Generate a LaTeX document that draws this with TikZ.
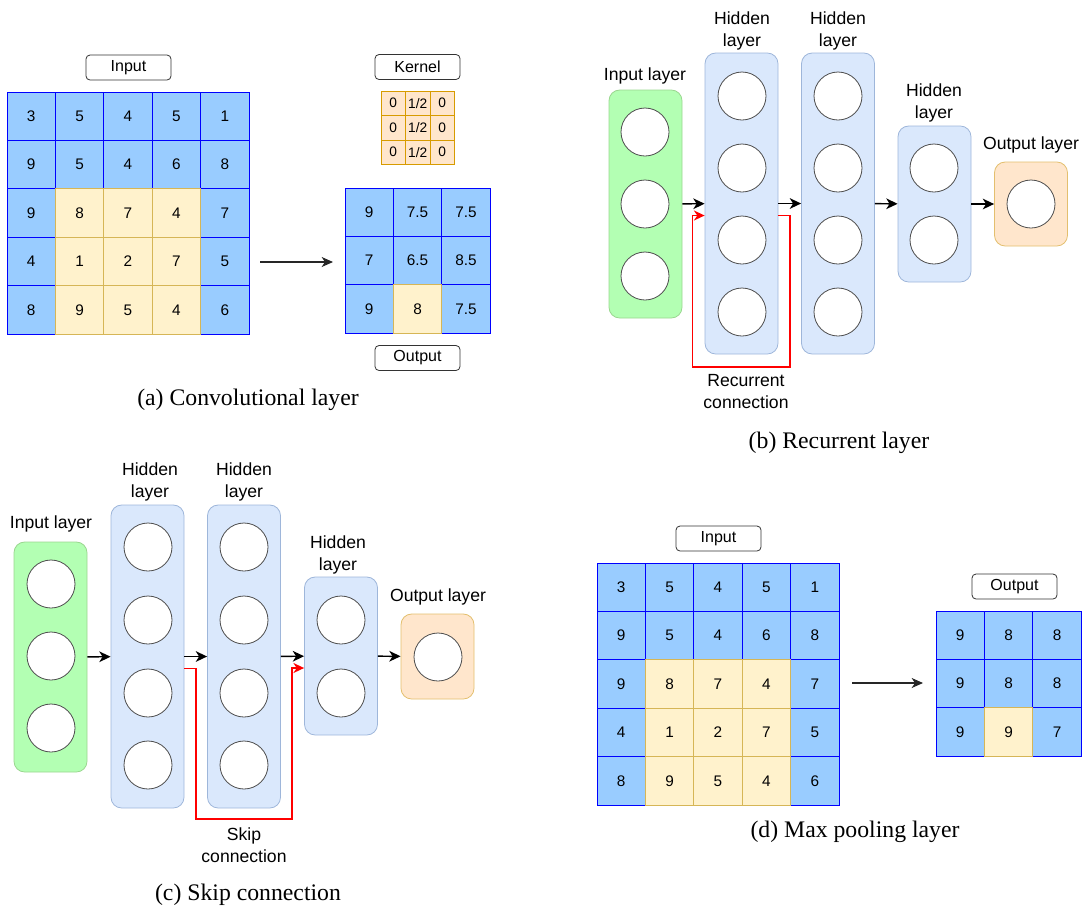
\documentclass[tikz,border=0pt]{standalone}
\usepackage{fontspec}
\setmainfont{Liberation Serif}
\setsansfont{Liberation Sans}
\usetikzlibrary{arrows.meta,calc}

\definecolor{cellblue}{HTML}{99CCFF}
\definecolor{cellyel}{HTML}{FFF2CC}
\definecolor{yelline}{HTML}{D6B656}
\definecolor{kerfill}{HTML}{FFE6CC}
\definecolor{kerline}{HTML}{D79B00}
\definecolor{hidfill}{HTML}{DAE8FC}
\definecolor{hidline}{HTML}{9EB6DA}
\definecolor{infill}{HTML}{B3FFB3}
\definecolor{lyrin}{HTML}{9AD68F}
\definecolor{outfill}{HTML}{FFE6CC}
\definecolor{lyrout}{HTML}{E3BF6E}

\tikzset{
  cell/.style={minimum size=48.4*0.75pt, inner sep=0, line width=0.75pt,
    font=\sffamily\fontsize{11.5}{13}\selectfont},
  kcell/.style={draw=kerline, fill=kerfill, minimum size=24.5*0.75pt, inner sep=0,
    line width=0.75pt, font=\sffamily\fontsize{10.3}{11}\selectfont},
  tag/.style={draw=black!80, rounded corners=3pt, fill=white, minimum width=85*0.75pt,
    minimum height=25*0.75pt, inner sep=0, line width=0.6pt,
    font=\sffamily\fontsize{12}{14}\selectfont},
  lyr/.style={rounded corners=8pt, minimum width=73*0.75pt, inner sep=0, line width=0.6pt},
  hid/.style={lyr, draw=hidline, fill=hidfill},
  inl/.style={lyr, draw=lyrin, fill=infill},
  outl/.style={lyr, draw=lyrout, fill=outfill},
  neuron/.style={circle, draw=black!70, fill=white, minimum size=48*0.75pt, inner sep=0,
    line width=0.6pt},
  lbl/.style={font=\sffamily\fontsize{13.2}{16.5}\selectfont, align=center, inner sep=0},
  caption/.style={font=\fontsize{17.8}{20}\selectfont, inner sep=0},
  flow/.style={-{Stealth[length=8.5pt,width=8pt,inset=2.5pt]}, line width=1.1pt},
  loopback/.style={-{Stealth[length=8pt,width=7.5pt,inset=2.5pt]}, line width=1.1pt, red},
  map/.style={-{Stealth[length=8.5pt,width=7.5pt,inset=2.5pt]}, line width=0.8pt, black!85},
}

% grid of numbered cells: prefix, left, top, rows, test for highlighted cells
\newcommand\cellgrid[5]{%
  \foreach \pass in {0,1}{
    \foreach \row [count=\r] in {#4}{
      \foreach \v [count=\c] in \row {
        \pgfmathtruncatemacro\isy{#5}
        \ifnum\isy=\pass
          \ifnum\isy=1 \def\cf{cellyel}\def\cd{yelline}\else\def\cf{cellblue}\def\cd{blue}\fi
          \node[cell, fill=\cf, draw=\cd] (#1-\r-\c) at ({#2+48.4*(\c-0.5)},{#3+48.4*(\r-0.5)}) {\v};
        \fi
      }
    }
  }
}

\begin{document}
\begin{tikzpicture}[x=0.75pt, y=-0.75pt]
\useasboundingbox (0,0) rectangle (1084,908);

% ---------- (a) convolution ----------
\cellgrid{a-in}{7}{92}{{3,5,4,5,1},{9,5,4,6,8},{9,8,7,4,7},{4,1,2,7,5},{8,9,5,4,6}}{and(\r>2,and(\c>1,\c<5))}
\node[tag] (a-intag) at (128.5,67.5) {Input};
\node[tag] (a-ktag) at (417.5,67) {Kernel};
\foreach \r in {1,2,3}{
  \foreach \c in {1,2,3}{
    \node[kcell] (a-k-\r-\c) at ({381+24.5*(\c-0.5)},{91+24.5*(\r-0.5)}) {\ifnum\c=2 1/2\else 0\fi};
  }
}
\cellgrid{a-out}{345}{188}{{9,7.5,7.5},{7,6.5,8.5},{9,8,7.5}}{and(\r==3,\c==2)}
\node[tag] (a-otag) at (417.5,358) {Output};
\coordinate (a-from) at (260,262);
\coordinate (a-to) at (333,262);
\draw[map] (a-from) -- (a-to);
\node[caption] (a-cap) at (248,400) {(a) Convolutional layer};

% ---------- (b) recurrent ----------
\node[inl, minimum height=228*0.75pt] (b-in) at (645.5,204) {};
\node[hid, minimum height=301*0.75pt] (b-h1) at (741.5,203.5) {};
\node[hid, minimum height=301*0.75pt] (b-h2) at (838,203.5) {};
\node[hid, minimum height=156*0.75pt] (b-h3) at (934.5,204) {};
\node[outl, minimum height=84*0.75pt] (b-out) at (1031,204) {};
\foreach \y [count=\i] in {132,204,276} \node[neuron] (b-in-\i) at (645,\y) {};
\foreach \y [count=\i] in {96,168,240,312} {
  \node[neuron] (b-h1-\i) at (742,\y) {};
  \node[neuron] (b-h2-\i) at (838,\y) {};
}
\foreach \y [count=\i] in {168,240} \node[neuron] (b-h3-\i) at (934,\y) {};
\node[neuron] (b-out-1) at (1031,204) {};
\node[lbl] (b-inl) at (645,76) {Input layer};
\node[lbl] (b-h1l) at (742,31) {Hidden\\layer};
\node[lbl] (b-h2l) at (838,31) {Hidden\\layer};
\node[lbl] (b-h3l) at (934,103) {Hidden\\layer};
\node[lbl] (b-outl) at (1031,145) {Output layer};
\draw[flow] (b-in) -- (b-h1);
\draw[flow] (b-h1) -- (b-h2);
\draw[flow] (b-h2) -- (b-h3);
\draw[flow] (b-h3) -- (b-out);
\coordinate (b-turn) at (790,367);
\draw[loopback] ($(b-h1.east)+(0,12)$) -| (b-turn) -| ($(b-h1.west)+(-12,12)$) -- ($(b-h1.west)+(0,12)$);
\node[lbl] (b-rl) at (746,391.5) {Recurrent\\connection};
\node[caption] (b-cap) at (839,443) {(b) Recurrent layer};

% ---------- (c) skip connection ----------
\node[inl, minimum height=230*0.75pt] (c-in) at (50.5,657) {};
\node[hid, minimum height=303*0.75pt] (c-h1) at (147.5,656.5) {};
\node[hid, minimum height=303*0.75pt] (c-h2) at (244,656.5) {};
\node[hid, minimum height=158*0.75pt] (c-h3) at (341,656) {};
\node[outl, minimum height=85*0.75pt] (c-out) at (437.5,656.5) {};
\foreach \y [count=\i] in {584,656,728} \node[neuron] (c-in-\i) at (51,\y) {};
\foreach \y [count=\i] in {547,620,693,765} {
  \node[neuron] (c-h1-\i) at (148,\y) {};
  \node[neuron] (c-h2-\i) at (244,\y) {};
}
\foreach \y [count=\i] in {620,693} \node[neuron] (c-h3-\i) at (341,\y) {};
\node[neuron] (c-out-1) at (438,657) {};
\node[lbl] (c-inl) at (51,524) {Input layer};
\node[lbl] (c-h1l) at (150,482) {Hidden\\layer};
\node[lbl] (c-h2l) at (244,482) {Hidden\\layer};
\node[lbl] (c-h3l) at (338,554.5) {Hidden\\layer};
\node[lbl] (c-outl) at (438,597) {Output layer};
\draw[flow] (c-in) -- (c-h1);
\draw[flow] (c-h1) -- (c-h2);
\draw[flow] (c-h2) -- (c-h3);
\draw[flow] (c-h3) -- (c-out);
\coordinate (c-turn) at (196,819);
\draw[loopback] ($(c-h1.east)+(0,12)$) -| (c-turn) -| ($(c-h3.west)+(-12,12)$) -- ($(c-h3.west)+(0,12)$);
\node[lbl] (c-sl) at (244,845.5) {Skip\\connection};
\node[caption] (c-cap) at (248,895) {(c) Skip connection};

% ---------- (d) max pooling ----------
\cellgrid{d-in}{597}{563}{{3,5,4,5,1},{9,5,4,6,8},{9,8,7,4,7},{4,1,2,7,5},{8,9,5,4,6}}{and(\r>2,and(\c>1,\c<5))}
\node[tag] (d-intag) at (718.5,538.5) {Input};
\cellgrid{d-out}{936}{611}{{9,8,8},{9,8,8},{9,9,7}}{and(\r==3,\c==2)}
\node[tag] (d-otag) at (1014.5,586.5) {Output};
\coordinate (d-from) at (852,683);
\coordinate (d-to) at (923,683);
\draw[map] (d-from) -- (d-to);
\node[caption] (d-cap) at (855,832) {(d) Max pooling layer};
\end{tikzpicture}
\end{document}
